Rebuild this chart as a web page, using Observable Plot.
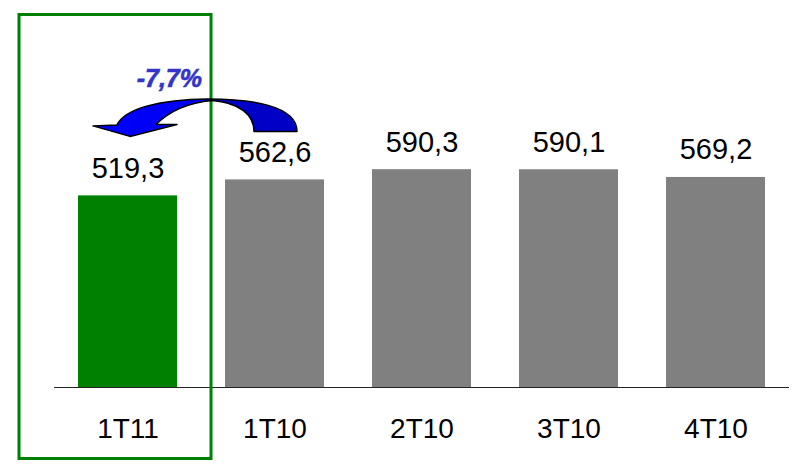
<!DOCTYPE html>
<html>
<head>
<meta charset="utf-8">
<script src="https://cdn.jsdelivr.net/npm/d3@7"></script>
<script src="https://cdn.jsdelivr.net/npm/@observablehq/plot@0.6"></script>
<style>
  html, body { margin: 0; padding: 0; background: #fff; }
  #chart { width: 795px; height: 467px; }
</style>
</head>
<body>
<div id="chart"></div>
<script>
// Data
const categories = ["1T11", "1T10", "2T10", "3T10", "4T10"];
const values = [519.3, 562.6, 590.3, 590.1, 569.2];
const highlighted = "1T11";
const compared = "1T10";

const data = categories.map((c, i) => ({ cat: c, value: values[i] }));
const fmtComma = (v, d = 1) => v.toFixed(d).replace(".", ",");
const changePct = (values[0] / values[1] - 1) * 100;
const changeLabel = fmtComma(changePct) + "%";

const W = 795, H = 467;

// Annotation: highlight box + curved arrow + change label
function annotation(index, scales, vals, dims) {
  const x = scales.x, y = scales.y;
  const bw = x.bandwidth();
  const g = d3.create("svg:g");
  // Highlight box around first category
  const bx0 = x(highlighted) - 59, bx1 = x(highlighted) + bw + 34;
  g.append("rect")
    .attr("x", bx0).attr("y", dims.marginTop - 3.5)
    .attr("width", bx1 - bx0)
    .attr("height", dims.height - 8.5 - (dims.marginTop - 3.5))
    .attr("fill", "none").attr("stroke", "#008000").attr("stroke-width", 3);

  // Curved arrow from compared bar to highlighted bar
  const x0 = x(highlighted) + bw / 2;
  const x1 = x(compared) + bw / 2;
  const s = (x1 - x0) / 147;
  const yF = y(values[categories.indexOf(compared)]) - 48;
  const P = (dx, dy) => `${x0 + dx * s},${yF + dy}`;
  const path = [
    "M", P(169.5, 0),
    "C", P(169.5, -26), P(122.5, -32.5), P(80.5, -32.5),
    "C", P(32.5, -32), P(-2.5, -23), P(-10.5, -6.5),
    "L", P(-34.5, -5.5),
    "L", P(2.5, 5),
    "L", P(49.5, -7),
    "L", P(28.5, -7),
    "C", P(42.5, -21), P(62.5, -29), P(84.5, -31),
    "C", P(112.5, -29), P(126.5, -16), P(126.5, 0),
    "Z"
  ].join(" ");
  const defs = g.append("defs");
  const grad = defs.append("linearGradient")
    .attr("id", "arrowGrad").attr("gradientUnits", "userSpaceOnUse")
    .attr("x1", x0 - 35 * s).attr("y1", 0).attr("x2", x0 + 170 * s).attr("y2", 0);
  grad.append("stop").attr("offset", 0).attr("stop-color", "#0000ff");
  grad.append("stop").attr("offset", 0.52).attr("stop-color", "#0000f2");
  grad.append("stop").attr("offset", 0.6).attr("stop-color", "#0000cc");
  grad.append("stop").attr("offset", 1).attr("stop-color", "#0000c4");
  g.append("path").attr("d", path)
    .attr("fill", "url(#arrowGrad)")
    .attr("stroke", "#000").attr("stroke-width", 1.5).attr("stroke-linejoin", "round");

  // change label
  g.append("text")
    .attr("x", x0 + 74.5 * s).attr("y", yF - 44)
    .attr("text-anchor", "end")
    .attr("fill", "#3434c8")
    .attr("font-size", 25).attr("font-weight", "bold").attr("font-style", "italic")
    .attr("stroke", "#3434c8").attr("stroke-width", 0.6)
    .attr("font-family", "'Liberation Sans', Arial, sans-serif")
    .text(changeLabel);
  return g.node();
}

const chart = Plot.plot({
  width: W,
  height: H,
  marginLeft: 54,
  marginRight: 6,
  marginTop: 18,
  marginBottom: 80,
  style: { fontFamily: "'Liberation Sans', Arial, sans-serif", background: "#fff", color: "#000" },
  x: { domain: categories, paddingInner: 0.327, paddingOuter: 0.1635, label: null },
  y: { domain: [0, 1000], axis: null },
  marks: [
    Plot.barY(data, {
      x: "cat", y: "value",
      fill: d => d.cat === highlighted ? "#008000" : "#808080"
    }),
    Plot.ruleY([0], { stroke: "#222", strokeWidth: 1.2 }),
    Plot.text(data, {
      x: "cat", y: "value", text: d => fmtComma(d.value),
      lineAnchor: "bottom", dy: -18, fontSize: 29, fill: "#000"
    }),
    Plot.axisX({ tickSize: 0, tickPadding: 31, fontSize: 28, label: null, fill: "#000" }),
    annotation
  ]
});
document.getElementById("chart").appendChild(chart);
</script>
</body>
</html>
